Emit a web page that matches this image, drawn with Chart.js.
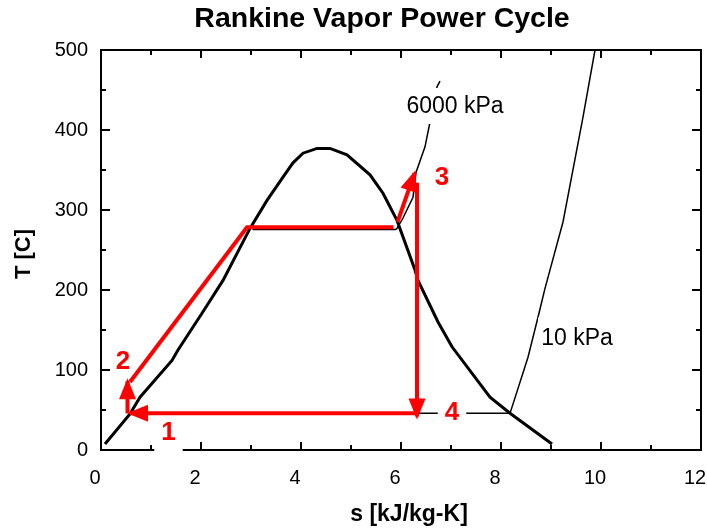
<!DOCTYPE html>
<html><head><meta charset="utf-8">
<script src="https://cdn.jsdelivr.net/npm/chart.js@4/dist/chart.umd.min.js"></script>
<style>html,body{margin:0;padding:0;background:#fff}</style>
</head><body>
<canvas id="c" width="707" height="532"></canvas>
<script>
// ---- Axis ticks ----
const xTickValues = [0,1,2,3,4,5,6,7,8,9,10,11,12];
const xTickLabels = ['0','','2','','4','','6','','8','','10','','12'];
const yTickValues = [0,50,100,150,200,250,300,350,400,450,500];
const yTickLabels = ['0','','100','','200','','300','','400','','500'];

// ---- Saturation dome (s [kJ/kg-K], T [C]) ----
const domeS = [0.08,0.58,0.78,1.42,1.54,2.02,2.44,2.98,3.32,3.64,3.84,4.04,4.32,4.58,4.92,5.38,5.64,5.92,6.28,6.34,6.74,7.02,7.78,8.18,9.02];
const domeT = [7.5,45,66,112,125,171,212,277,312,341,359,371,377,377,369,344,321,287,225,212,160,129,66,46,7.5];

// ---- 6000 kPa isobar ----
const p6000S = [3.03,5.89,5.92,6.04,6.24,6.30,6.48,6.58,6.72,6.78];
const p6000T = [275.6,275.6,277,290,316,347,379,410,454,461];

// ---- 10 kPa isobar ----
const p10S = [0.65,8.18,8.54,8.74,8.88,9.24,9.64,9.88];
const p10T = [45.8,45.8,116,166,202,285,416,500];

// ---- Rankine cycle path segments ----
const seg41S = [6.32,0.58];      const seg41T = [45.8,45.8];
const seg12S = [0.53,0.53];      const seg12T = [45.8,86];
const seg2bS = [0.58,2.92,5.85]; const seg2bT = [85,278.5,278.5];
const seg23S = [5.93,6.27];      const seg23T = [285,346];
const seg34S = [6.32,6.32];      const seg34T = [334,42];

// ---- Text labels ----
const titleText = 'Rankine Vapor Power Cycle';
const xTitleText = 's [kJ/kg-K]';
const yTitleText = 'T [C]';
const labelTexts = ['1','2','3','4','6000 kPa','10 kPa'];
const labelS = [1.35,0.44,6.82,7.02,7.08,9.52];
const labelT = [22.5,112,341,47.5,430,141];

const pts = (s,t) => s.map((v,i)=>({x:v,y:t[i]}));
const FONT = "'Liberation Sans', Arial, Helvetica, sans-serif";
const RED = '#ff0000';

function lineDs(s,t,color,width,order,arrow){
  return {data:pts(s,t), showLine:true, borderColor:color, backgroundColor:color,
    borderWidth:width, pointRadius:0, pointHoverRadius:0, tension:0, order:order,
    borderCapStyle:'butt', borderJoinStyle:'miter', arrow:!!arrow, fill:false};
}

const labelStyles = [
  {font:'bold 26px '+FONT, color:RED, padX:7, padTop:12, padBottom:20},
  {font:'bold 26px '+FONT, color:RED, padX:4, padTop:4, padBottom:4},
  {font:'bold 26px '+FONT, color:RED, padX:4, padTop:4, padBottom:4},
  {font:'bold 26px '+FONT, color:RED, padX:7, padTop:14, padBottom:14},
  {font:'23px '+FONT, color:'#000', padX:3, padTop:18, padBottom:18},
  {font:'23px '+FONT, color:'#000', padX:3, padTop:20, padBottom:20}
];

const decor = {
  id:'decor',
  afterDatasetsDraw(chart){
    const {ctx, chartArea:a, scales:{x,y}} = chart;
    ctx.save();
    // arrowheads
    chart.data.datasets.forEach((ds,i)=>{
      if(!ds.arrow) return;
      const d = chart.getDatasetMeta(i).data;
      const p1 = d[d.length-2], p2 = d[d.length-1];
      let dx = p2.x-p1.x, dy = p2.y-p1.y; const L = Math.hypot(dx,dy); dx/=L; dy/=L;
      const tipX = p2.x+dx*3, tipY = p2.y+dy*3;
      const bx = tipX-dx*21, by = tipY-dy*21, w = 8.5;
      ctx.fillStyle = ds.borderColor;
      ctx.beginPath();
      ctx.moveTo(tipX,tipY);
      ctx.lineTo(bx-dy*w, by+dx*w);
      ctx.lineTo(bx+dy*w, by-dx*w);
      ctx.closePath(); ctx.fill();
    });
    // frame
    ctx.strokeStyle='#000'; ctx.lineWidth=2; ctx.lineCap='butt';
    ctx.strokeRect(a.left, a.top, a.right-a.left, a.bottom-a.top);
    const ln=(x1,y1,x2,y2)=>{ctx.beginPath();ctx.moveTo(x1,y1);ctx.lineTo(x2,y2);ctx.stroke();};
    xTickValues.forEach((v,i)=>{
      const px = Math.round(x.getPixelForValue(v));
      const len = xTickLabels[i] ? 8 : 5;
      ln(px,a.bottom,px,a.bottom-len); ln(px,a.top,px,a.top+len);
    });
    yTickValues.forEach((v,i)=>{
      const py = Math.round(y.getPixelForValue(v));
      const len = yTickLabels[i] ? 9 : 5;
      ln(a.left,py,a.left+len,py); ln(a.right,py,a.right-len,py);
    });
    // labels with white background
    labelTexts.forEach((t,i)=>{
      const st = labelStyles[i];
      const px = x.getPixelForValue(labelS[i]), py = y.getPixelForValue(labelT[i]);
      ctx.font = st.font;
      const w = ctx.measureText(t).width;
      ctx.fillStyle = '#fff';
      ctx.fillRect(px-w/2-st.padX, py-st.padTop, w+2*st.padX, st.padTop+st.padBottom);
      ctx.fillStyle = st.color; ctx.textAlign='center'; ctx.textBaseline='middle';
      ctx.fillText(t, px, py+1);
    });
    // titles
    ctx.fillStyle = '#000'; ctx.textAlign='center'; ctx.textBaseline='middle';
    ctx.font = 'bold 28.5px '+FONT;
    ctx.fillText(titleText, 382, 19);
    ctx.font = 'bold 23px '+FONT;
    ctx.fillText(xTitleText, 409, 515);
    ctx.save();
    ctx.translate(24, 254); ctx.rotate(-Math.PI/2);
    ctx.font = 'bold 22px '+FONT;
    ctx.fillText(yTitleText, 0, 0);
    ctx.restore();
    ctx.restore();
  }
};

new Chart(document.getElementById('c'), {
  type:'scatter',
  data:{datasets:[
    lineDs(seg41S,seg41T,RED,4,0,true),
    lineDs(seg12S,seg12T,RED,4,0,true),
    lineDs(seg2bS,seg2bT,RED,4,0,false),
    lineDs(seg23S,seg23T,RED,4,0,true),
    lineDs(seg34S,seg34T,RED,4,0,true),
    lineDs(domeS,domeT,'#000',3,1,false),
    lineDs(p6000S,p6000T,'#000',1.5,2,false),
    lineDs(p10S,p10T,'#000',1.5,2,false)
  ]},
  options:{
    responsive:false, animation:false, devicePixelRatio:1,
    layout:{padding:{left:0,right:6,top:50,bottom:0}},
    plugins:{
      legend:{display:false}, tooltip:{enabled:false}, title:{display:false}
    },
    scales:{
      x:{type:'linear', min:0, max:12,
        afterBuildTicks:s=>{s.ticks = xTickValues.map(v=>({value:v}));},
        afterFit:s=>{s.height = 82; s.paddingRight = 0; s.paddingLeft = 0;},
        grid:{display:false, drawTicks:false}, border:{display:false},
        ticks:{autoSkip:false, maxRotation:0, padding:16, labelOffset:-6, color:'#000',
          font:{family:FONT, size:20},
          callback:(v,i)=>xTickLabels[i]},
        title:{display:false}
      },
      y:{type:'linear', min:0, max:500,
        afterBuildTicks:s=>{s.ticks = yTickValues.map(v=>({value:v}));},
        afterFit:s=>{s.width = 101; s.paddingTop = 0;},
        grid:{display:false, drawTicks:false}, border:{display:false},
        ticks:{autoSkip:false, padding:13, color:'#000',
          font:{family:FONT, size:20},
          callback:(v,i)=>yTickLabels[i]},
        title:{display:false}
      }
    }
  },
  plugins:[decor]
});
</script>
</body></html>
